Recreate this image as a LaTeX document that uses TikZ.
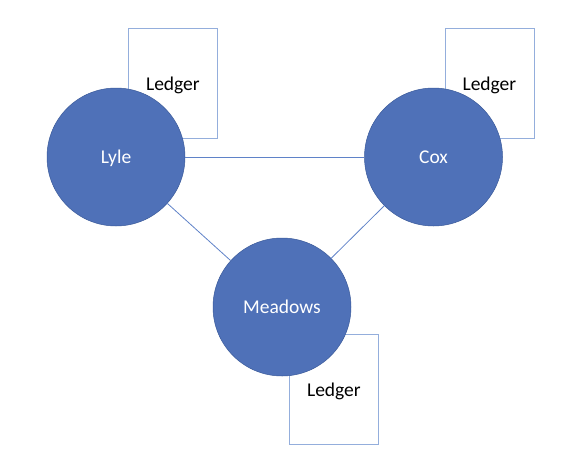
\documentclass[tikz,border=0pt]{standalone}
\usepackage{fontspec}
\setmainfont{Carlito}
\usetikzlibrary{positioning, backgrounds}

\definecolor{partyblue}{HTML}{4F71B8}
\definecolor{partyedge}{HTML}{3A5A9A}
\definecolor{bookedge}{HTML}{94AEDC}
\definecolor{linkblue}{HTML}{5F82C8}

\begin{document}
\begin{tikzpicture}[
    x=1pt, y=-1pt,
    node distance=179pt,
    party/.style={circle, draw=partyedge, line width=0.5pt, fill=partyblue, text=white, minimum size=138pt, inner sep=0pt, text depth=0pt, font=\fontsize{19.5}{23}\selectfont},
    ledger/.style={rectangle, draw=bookedge, line width=0.8pt, fill=white, minimum width=89pt, minimum height=110pt, inner sep=0pt, text depth=0pt, font=\fontsize{19.5}{23}\selectfont},
    link/.style={draw=linkblue, line width=0.8pt}
]
    \useasboundingbox (0,0) rectangle (578,466);

    \node[party] (lyle) at (116,157) {Lyle};
    \node[party, right=of lyle] (cox) {Cox};
    \node[party] (meadows) at (282,307) {Meadows};

    % Ledgers behind the parties
    \begin{scope}[on background layer]
        \node[ledger, above right=18pt and 12pt of lyle.center] (lyleledger) {Ledger};
        \node[ledger, above right=18pt and 11pt of cox.center] (coxledger) {Ledger};
        \node[ledger, below right=27pt and 7pt of meadows.center] (meadowsledger) {Ledger};
    \end{scope}

    % Links
    \draw[link] (lyle) -- (cox);
    \draw[link] (lyle) -- (meadows);
    \draw[link] (cox) -- (meadows);
\end{tikzpicture}
\end{document}
